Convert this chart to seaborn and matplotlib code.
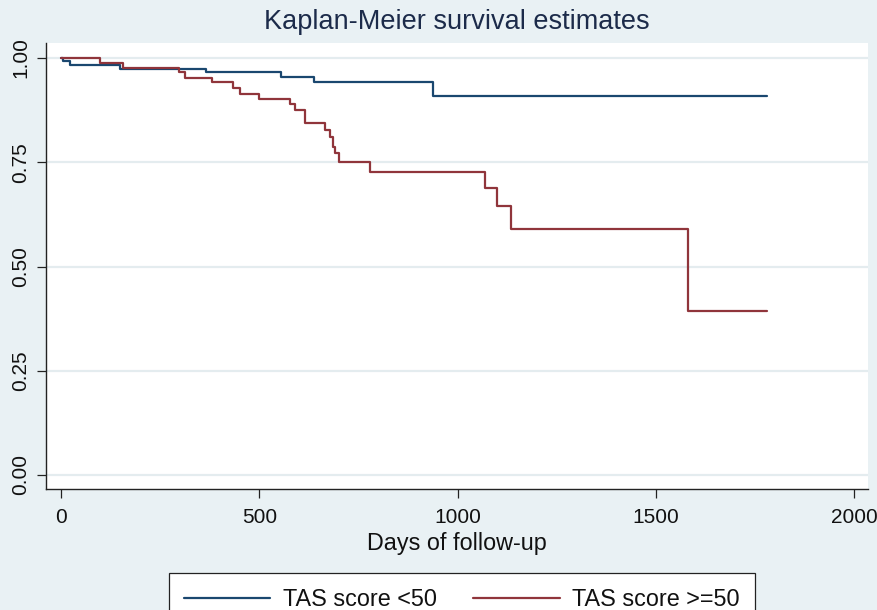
import numpy as np
import pandas as pd
import matplotlib
matplotlib.use("Agg")
import matplotlib.pyplot as plt
import seaborn as sns
from matplotlib.lines import Line2D

# ---- data ----
group_labels = ["TAS score <50", "TAS score >=50"]

low_days = [0, 4, 23, 150, 366, 555, 638, 939, 1780]
low_surv = [1.0, 0.993, 0.983, 0.973, 0.966, 0.954, 0.942, 0.908, 0.908]

high_days = [0, 98, 157, 298, 313, 381, 433, 451, 500, 578, 590, 615, 666,
             678, 687, 691, 701, 779, 1068, 1100, 1136, 1582, 1780]
high_surv = [1.0, 0.989, 0.975, 0.967, 0.953, 0.942, 0.927, 0.914, 0.902,
             0.889, 0.875, 0.843, 0.827, 0.811, 0.787, 0.771, 0.750, 0.727,
             0.689, 0.645, 0.591, 0.393, 0.393]

x_ticks = [0, 500, 1000, 1500, 2000]
y_ticks = [0.00, 0.25, 0.50, 0.75, 1.00]
y_tick_labels = ["0.00", "0.25", "0.50", "0.75", "1.00"]

df = pd.concat([
    pd.DataFrame({"days": low_days, "surv": low_surv, "group": group_labels[0]}),
    pd.DataFrame({"days": high_days, "surv": high_surv, "group": group_labels[1]}),
], ignore_index=True)

# ---- style ----
bg = "#e9f1f4"
navy = "#1a476f"
maroon = "#90353b"

sns.set_theme(style="white")
plt.rcParams["font.family"] = ["Liberation Sans", "DejaVu Sans"]

fig = plt.figure(figsize=(8.78, 6.10), dpi=100, facecolor=bg)
ax = fig.add_axes([46.5 / 878, 1 - 489 / 610, (868 - 46.5) / 878, (489 - 43) / 610])
ax.set_facecolor("white")

sns.lineplot(data=df, x="days", y="surv", hue="group",
             palette={group_labels[0]: navy, group_labels[1]: maroon},
             drawstyle="steps-post", estimator=None, sort=False,
             linewidth=1.6, ax=ax, legend=False, zorder=3)

ax.set_xlim(-36.6, 2035)
ax.set_ylim(-0.0336, 1.036)
ax.set_xticks(x_ticks)
ax.set_xticklabels([str(t) for t in x_ticks])
ax.set_yticks(y_ticks)
ax.set_yticklabels(y_tick_labels, rotation=90, va="center")

ax.grid(axis="y", color="#e4ecef", linewidth=1.6, zorder=0)
ax.grid(axis="x", visible=False)

for s in ["top", "right"]:
    ax.spines[s].set_visible(False)
for s in ["left", "bottom"]:
    ax.spines[s].set_color("#222222")
    ax.spines[s].set_linewidth(1.0)

ax.tick_params(axis="both", which="major", length=6.5, width=0.9,
               color="#222222", labelsize=15, labelcolor="#111111",
               direction="out", left=True, bottom=True)
ax.tick_params(axis="x", pad=7)
ax.tick_params(axis="y", pad=5)

ax.set_xlabel("Days of follow-up", fontsize=16.8, color="#111111", labelpad=4)
ax.set_ylabel("")

fig.text(0.5205, 1 - 22 / 610, "Kaplan-Meier survival estimates",
         ha="center", va="center", fontsize=19.5, color="#1c2b4a")

handles = [Line2D([0], [0], color=navy, lw=1.6),
           Line2D([0], [0], color=maroon, lw=1.6)]
leg = fig.legend(handles, group_labels, loc="upper center",
                 bbox_to_anchor=(462 / 878, 1 - 573 / 610), ncol=2,
                 frameon=True, fancybox=False, shadow=False,
                 edgecolor="#222222", facecolor="white", framealpha=1,
                 fontsize=16.8, handlelength=3.7, handletextpad=0.55,
                 columnspacing=1.55, borderpad=0.65, borderaxespad=0)
leg.get_frame().set_linewidth(0.9)
for t in leg.get_texts():
    t.set_color("#111111")

fig.savefig("out.png", dpi=100, facecolor=bg)
